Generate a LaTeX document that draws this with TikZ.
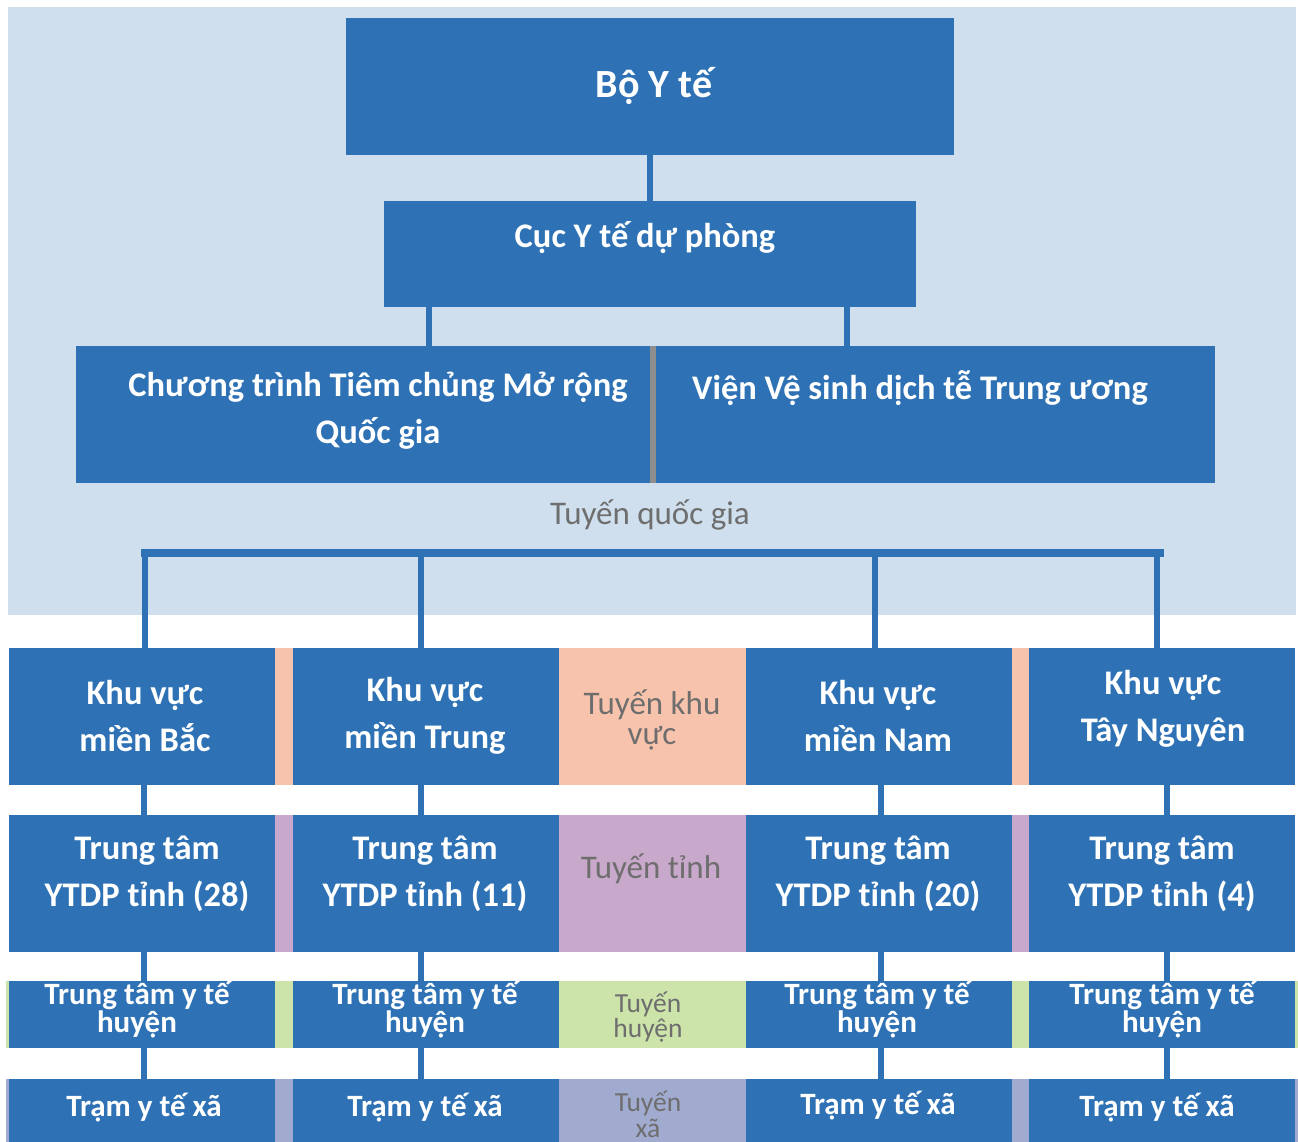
\documentclass[tikz,border=0pt]{standalone}
\usepackage{fontspec}
\setmainfont{Carlito}
\definecolor{boxblue}{HTML}{2E72B5}
\definecolor{nationalbg}{HTML}{CFDFED}
\definecolor{regionband}{HTML}{F8C3AC}
\definecolor{provband}{HTML}{C9A9CB}
\definecolor{distband}{HTML}{CCE3AA}
\definecolor{commband}{HTML}{A1AACF}
\definecolor{tiergray}{HTML}{6E6E6E}
\definecolor{dividergray}{HTML}{8E8E8E}
\tikzset{
  box/.style={fill=boxblue, inner sep=0pt, outer sep=0pt, minimum width=266pt, minimum height=137pt},
  band/.style={inner sep=0pt, outer sep=0pt},
  boxtext/.style={text=white, inner sep=0pt, align=center, font=\bfseries\fontsize{34.5}{47}\selectfont},
  smalltext/.style={boxtext, font=\bfseries\fontsize{31}{24}\selectfont},
  tiertext/.style={text=tiergray, inner sep=0pt, align=center, font=\fontsize{33}{30}\selectfont},
  link/.style={draw=boxblue, line width=6pt},
  busline/.style={draw=boxblue, line width=8pt, line cap=rect},
  divider/.style={draw=dividergray, line width=6pt}
}
\begin{document}
\begin{tikzpicture}[x=1pt, y=-1pt]
\useasboundingbox (0,0) rectangle (1298,1142);
% national level
\fill[nationalbg] (8,7) rectangle (1296,615);
% tier bands
\node[band, fill=regionband, minimum width=1286pt, minimum height=137pt] (band1) at (652,716.5) {};
\node[band, fill=provband, minimum width=1286pt, minimum height=137pt] (band2) at (652,883.5) {};
\node[band, fill=distband, minimum width=1292pt, minimum height=67pt] (band3) at (652,1014.5) {};
\node[band, fill=commband, minimum width=1292pt, minimum height=63pt] (band4) at (652,1110.5) {};

% top boxes
\node[box, minimum width=608pt] (boyte) at (650,86.5) {};
\node[box, minimum width=532pt, minimum height=106pt] (cuc) at (650,254) {};
\node[box, minimum width=577pt] (ctcm) at (364.5,414.5) {};
\node[box, minimum width=562pt] (vien) at (934,414.5) {};

% regional columns
\foreach \c/\x in {1/142, 2/425.5, 3/879, 4/1162} {
  \node[box] (kv\c) at (\x,716.5) {};
  \node[box] (tt\c) at (\x,883.5) {};
  \node[box, minimum height=67pt] (ttyt\c) at (\x,1014.5) {};
  \node[box, minimum height=63pt] (tram\c) at (\x,1110.5) {};
}

% connectors
\draw[link] (boyte.south) -- (cuc.north);
\draw[link] ([xshift=45pt]cuc.south west) -- ([xshift=45pt]cuc.south west |- ctcm.north);
\draw[link] ([xshift=-69pt]cuc.south east) -- ([xshift=-69pt]cuc.south east |- vien.north);
\draw[divider] (ctcm.north east) -- (ctcm.south east);
\coordinate (bus) at (650,553);
\draw[busline] ([xshift=3pt]kv1.north |- bus) -- ([xshift=-2pt]kv4.north |- bus);
\foreach \c/\bx/\dx in {1/3/2, 2/-4.5/-4.5, 3/-4/2, 4/-5/5} {
  \draw[link] ([xshift=\bx pt]kv\c.north |- bus) -- ([xshift=\bx pt]kv\c.north);
  \draw[link] ([xshift=\dx pt]kv\c.south) -- ([xshift=\dx pt]tt\c.north);
  \draw[link] ([xshift=\dx pt]tt\c.south) -- ([xshift=\dx pt]ttyt\c.north);
  \draw[link] ([xshift=\dx pt]ttyt\c.south) -- ([xshift=\dx pt]tram\c.north);
}

% texts
\node[boxtext, font=\bfseries\fontsize{40}{40}\selectfont] (boyte-t) at (654,86) {Bộ Y tế};
\node[boxtext] (cuc-t) at (645,238) {Cục Y tế dự phòng};
\node[boxtext] (ctcm-t) at (378,411) {Chương trình Tiêm chủng Mở rộng\\Quốc gia};
\node[boxtext] (vien-t) at (920,388) {Viện Vệ sinh dịch tễ Trung ương};
\node[tiertext] (national-t) at (650,515) {Tuyến quốc gia};

\node[boxtext] (kv1-t) at (145,716) {Khu vực\\miền Bắc};
\node[boxtext] (kv2-t) at (425,716) {Khu vực\\miền Trung};
\node[boxtext] (kv3-t) at (878,716) {Khu vực\\miền Nam};
\node[boxtext] (kv4-t) at (1163,709) {Khu vực\\Tây Nguyên};
\node[tiertext] (band1-t) at (652,720) {Tuyến khu\\vực};

\node[boxtext] (tt1-t) at (147,874) {Trung tâm\\YTDP tỉnh (28)};
\node[boxtext] (tt2-t) at (425,874) {Trung tâm\\YTDP tỉnh (11)};
\node[boxtext] (tt3-t) at (878,874) {Trung tâm\\YTDP tỉnh (20)};
\node[boxtext] (tt4-t) at (1162,874) {Trung tâm\\YTDP tỉnh (4)};
\node[tiertext] (band2-t) at (651,869) {Tuyến tỉnh};

\node[smalltext] (ttyt1-t) at (137,1010) {Trung tâm y tế\\huyện};
\node[smalltext] (ttyt2-t) at (425,1010) {Trung tâm y tế\\huyện};
\node[smalltext] (ttyt3-t) at (877,1010) {Trung tâm y tế\\huyện};
\node[smalltext] (ttyt4-t) at (1162,1010) {Trung tâm y tế\\huyện};
\node[tiertext, font=\fontsize{27.5}{25}\selectfont] (band3-t) at (648,1017) {Tuyến\\huyện};

\node[smalltext] (tram1-t) at (144,1108) {Trạm y tế xã};
\node[smalltext] (tram2-t) at (425,1108) {Trạm y tế xã};
\node[smalltext] (tram3-t) at (878,1106) {Trạm y tế xã};
\node[smalltext] (tram4-t) at (1157,1108) {Trạm y tế xã};
\node[tiertext, font=\fontsize{27.5}{26}\selectfont] (band4-t) at (648,1114) {Tuyến\\xã};
\end{tikzpicture}
\end{document}
